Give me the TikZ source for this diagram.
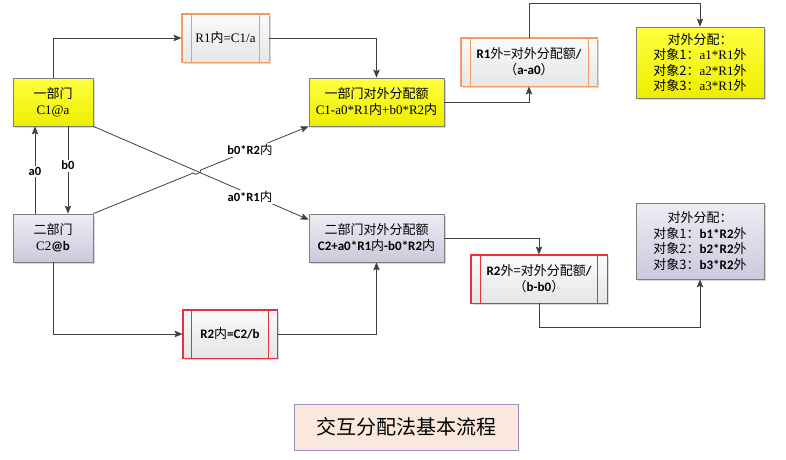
\documentclass[tikz,border=0pt]{standalone}
\usepackage{fontspec}
\setmainfont{Liberation Serif}
\newfontfamily\zh{Noto Sans CJK SC}
\newfontfamily\cb{Carlito}
\usetikzlibrary{arrows.meta,shadows,calc}
\definecolor{lineC}{HTML}{404040}
\definecolor{yelTop}{HTML}{FFFF40}
\definecolor{yelBot}{HTML}{EEEE00}
\definecolor{lavTop}{HTML}{EEECF4}
\definecolor{lavBot}{HTML}{CDC8DD}
\definecolor{grayTop}{HTML}{FAFAFA}
\definecolor{grayBot}{HTML}{E6E6E6}
\definecolor{orangeB}{HTML}{F19C68}
\definecolor{redB}{HTML}{E5323A}
\definecolor{boxB}{HTML}{7F7F7F}
\definecolor{titleFill}{HTML}{FBE8DC}
\definecolor{titleB}{HTML}{9F8DBE}
\newcommand{\Z}[1]{{\zh\mdseries #1}}
\newcommand{\B}[1]{{\cb\bfseries #1}}
\begin{document}
\begin{tikzpicture}[x=1pt,y=-1pt,
  every node/.style={font=\fontsize{13}{16}\selectfont, align=center, inner sep=1pt},
  shad/.style={drop shadow={opacity=0.3, shadow xshift=1.5pt, shadow yshift=-1.5pt}},
  ybox/.style={draw=boxB, line width=0.8pt, top color=yelTop, bottom color=yelBot, shad},
  lbox/.style={draw=boxB, line width=0.8pt, top color=lavTop, bottom color=lavBot, shad},
  rbox/.style={line width=0.9pt, top color=grayTop, bottom color=grayBot, shad, minimum height=48pt},
  conn/.style={draw=lineC, line width=0.8pt, -{Stealth[length=8pt,width=6.5pt,inset=1.5pt]}},
  lbl/.style={fill=white, font=\fontsize{12.5}{14}\selectfont\cb\bfseries, inner sep=1.5pt}
]
\useasboundingbox (0,0) rectangle (786,459);
\fill[white] (0,0) rectangle (786,459);

% main boxes
\node[ybox, minimum width=80pt, minimum height=48pt] (d1) at (53,102) {\Z{一部门}\\C1@a};
\node[lbox, minimum width=80pt, minimum height=48pt] (d2) at (53,238) {\Z{二部门}\\C2\B{@b}};
\node[ybox, minimum width=135pt, minimum height=48pt] (o1) at (376.5,102) {\Z{一部门对外分配额}\\C1-a0*R1\Z{内}+b0*R2\Z{内}};
\node[lbox, minimum width=135pt, minimum height=48pt] (o2) at (376.5,238) {\Z{二部门对外分配额}\\\B{C2+a0*R1}\Z{内}\B{-b0*R2}\Z{内}};

% R boxes
\node[rbox, draw=orangeB, minimum width=87pt] (r1in) at (225.5,38) {R1\Z{内}=C1/a};
\node[rbox, draw=redB, minimum width=94pt] (r2in) at (230,334) {\B{R2}\Z{内}\B{=C2/b}};
\node[rbox, draw=orangeB, minimum width=136pt] (r1out) at (529,62) {\B{R1}\Z{外=对外分配额}\B{/}\\\Z{（}\B{a-a0}\Z{）}};
\node[rbox, draw=redB, minimum width=136pt] (r2out) at (539,279) {\B{R2}\Z{外=对外分配额}\B{/}\\\Z{（}\B{b-b0}\Z{）}};
\foreach \n/\o/\c in {r1in/10/orangeB, r2in/9/redB, r1out/9.5/orangeB, r2out/10/redB}{
  \draw[\c, line width=0.9pt] (\n.north west) rectangle (\n.south east);
  \draw[\c, line width=0.8pt] ([xshift=\o pt]\n.north west) -- ([xshift=\o pt]\n.south west);
  \draw[\c, line width=0.8pt] ([xshift=-\o pt]\n.north east) -- ([xshift=-\o pt]\n.south east);
}

% end boxes
\node[ybox, minimum width=128pt, minimum height=71pt, font=\fontsize{13}{15.5}\selectfont] (e1) at (700,62.5)
  {\Z{对外分配：}\\\Z{对象1：}a1*R1\Z{外}\\\Z{对象2：}a2*R1\Z{外}\\\Z{对象3：}a3*R1\Z{外}};
\node[lbox, minimum width=128pt, minimum height=76pt, font=\fontsize{13}{15.5}\selectfont] (e2) at (700,241)
  {\Z{对外分配：}\\\Z{对象1：}\B{b1*R2}\Z{外}\\\Z{对象2：}\B{b2*R2}\Z{外}\\\Z{对象3：}\B{b3*R2}\Z{外}};

% title
\node[draw=titleB, fill=titleFill, line width=0.8pt, minimum width=224pt, minimum height=46pt, font=\fontsize{20}{24}\selectfont\zh] (title) at (406,427) {交互分配法基本流程};

% connectors
\draw[conn] (d1.north) |- (r1in.west);
\draw[conn] (r1in.east) -| (o1.north);
\draw[conn] ([xshift=15pt]d1.south) -- node[lbl, pos=0.45] {b0} ([xshift=15pt]d2.north);
\draw[conn] ([xshift=-18pt]d2.north) -- node[lbl, pos=0.48] {a0} ([xshift=-18pt]d1.south);
\draw[conn] (d1.south east) -- ([yshift=-6pt]o2.north west);
\coordinate (hx) at (197,171.5);
\draw[conn] (d2.north east) -- ($(hx)!4pt!(d2.north east)$) to[bend right=90] ($(hx)!4pt!(o1.south west)$) -- (o1.south west);
\node[lbl] (lb2) at (250,150) {b0*R2\Z{内}};
\node[lbl] (la1) at (250,197) {a0*R1\Z{内}};
\draw[conn] (o1.east) -| (r1out.south);
\draw[conn] (r1out.north) -- ++(0,-34) -| (e1.north);
\draw[conn] (o2.east) -| (r2out.north);
\draw[conn] (r2out.south) -- ++(0,24) -| (e2.south);
\draw[conn] (d2.south) |- (r2in.west);
\draw[conn] (r2in.east) -| (o2.south);
\end{tikzpicture}
\end{document}
